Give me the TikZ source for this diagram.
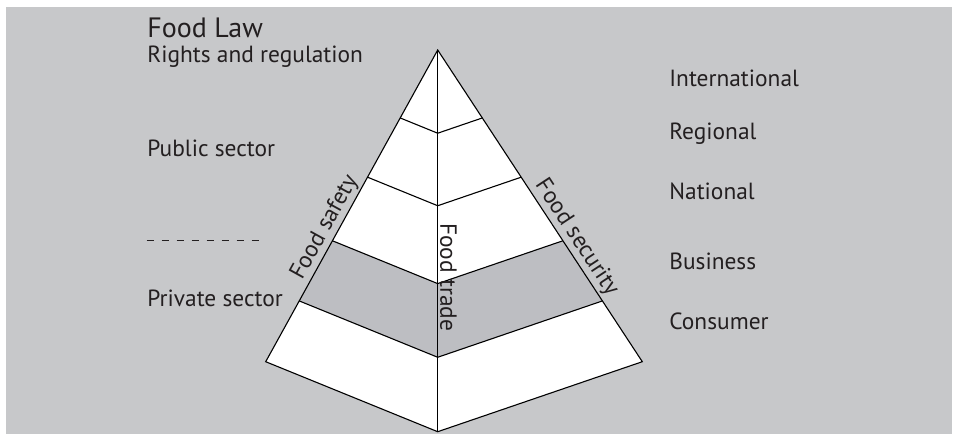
\documentclass[tikz,border=0pt]{standalone}
\usepackage{fontspec}
\setmainfont{PT Sans}
\usetikzlibrary{calc}
\definecolor{lawgray}{RGB}{199,200,202}
\definecolor{bandgray}{RGB}{189,190,194}
\definecolor{inkgray}{RGB}{35,31,32}

\begin{document}
\begin{tikzpicture}[x=0.5pt,y=-0.5pt,inner sep=0pt]
\tikzstyle{lbl}=[anchor=base west, text=inkgray, font=\fontsize{11.7}{14}\selectfont]
\tikzstyle{side}=[anchor=south, inner sep=1pt, text=inkgray, font=\fontsize{11.7}{14}\selectfont]
\tikzstyle{edge}=[line width=0.55pt, black, line join=miter]
\useasboundingbox (0,0) rectangle (953,434);
\fill[lawgray] (6,7) rectangle (952,434);
\coordinate (top) at (437.7,50);
\coordinate (left) at (265.7,361.7);
\coordinate (front) at (437.7,431.7);
\coordinate (right) at (642.3,361.7);
\foreach \n/\t in {1/0.218,2/0.408,3/0.612,4/0.805} {
  \coordinate (l\n) at ($(top)!\t!(left)$);
  \coordinate (f\n) at ($(top)!\t!(front)$);
  \coordinate (r\n) at ($(top)!\t!(right)$);
}
\fill[white] (top) -- (left) -- (front) -- (right) -- cycle;
\fill[bandgray] (l3) -- (f3) -- (r3) -- (r4) -- (f4) -- (l4) -- cycle;
\draw[edge] (top) -- (left) -- (front) -- (right) -- cycle;
\draw[edge] (top) -- (front);
\foreach \n in {1,...,4} \draw[edge] (l\n) -- (f\n) -- (r\n);
\node[lbl, font=\fontsize{14}{16}\selectfont] (law) at (147,37.3) {Food Law};
\node[lbl] (rights) at (147,62.7) {Rights and regulation};
\node[lbl] (public) at (147,156) {Public sector};
\node[lbl] (private) at (147,306.7) {Private sector};
\coordinate (dashl) at (146.7,240.7);
\coordinate (dashr) at (265.7,240.7);
\draw[inkgray, line width=0.5pt, dash pattern=on 3.5pt off 4pt] (dashl) -- (dashr);
\node[lbl] (intl) at (669,86.7) {International};
\node[lbl] (regional) at (669,139.3) {Regional};
\node[lbl] (national) at (669,199.3) {National};
\node[lbl] (business) at (669,269.3) {Business};
\node[lbl] (consumer) at (669,329) {Consumer};
\node[side, rotate=61.1] (safety) at ($(top)!0.59!(left)$) {Food safety};
\node[side, rotate=-56.7] (security) at ($(top)!0.625!(right)$) {Food security};
\node[side, rotate=-90] (trade) at ($(top)!0.595!(front)$) {Food trade};
\end{tikzpicture}
\end{document}
